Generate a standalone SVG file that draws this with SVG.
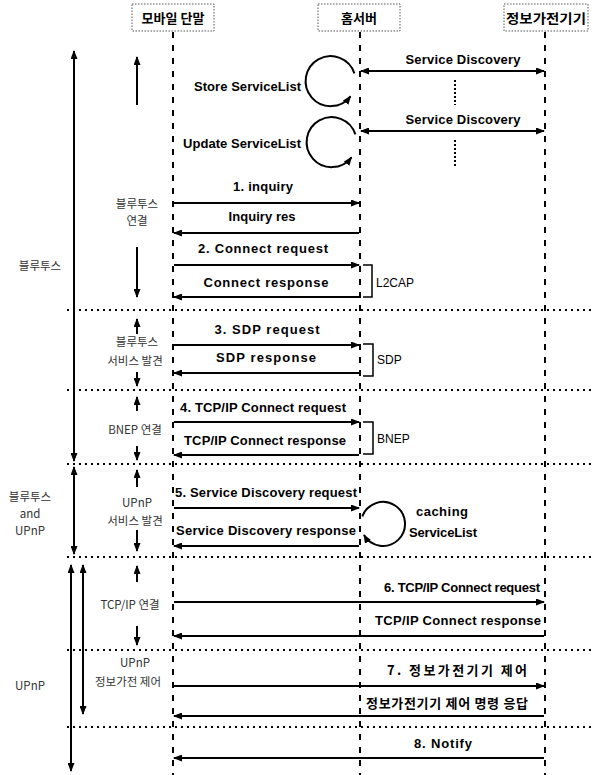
<svg xmlns="http://www.w3.org/2000/svg" width="593" height="775" viewBox="0 0 593 775">
<defs>
<marker id="ah" markerUnits="userSpaceOnUse" markerWidth="9" markerHeight="7" refX="8" refY="3.5" orient="auto-start-reverse">
<path d="M0,0 L9,3.5 L0,7 z" fill="#000"/>
</marker>
<style>
.en{font-family:"Liberation Sans",Arial,"Noto Sans CJK KR",sans-serif;font-weight:bold;font-size:13px;fill:#000;text-anchor:middle}
.reg{font-family:"Liberation Sans",Arial,sans-serif;font-size:12px;fill:#000}
.ko{font-family:"Noto Sans CJK KR",sans-serif;font-size:11.5px;fill:#333;text-anchor:middle}
.kob{font-family:"Noto Sans CJK KR",sans-serif;font-weight:bold;font-size:13px;fill:#000;text-anchor:middle}
.box{fill:#fff;stroke:#555;stroke-width:1;stroke-dasharray:1.5 1.5}
.life{stroke:#000;stroke-width:2;stroke-dasharray:6 7;fill:none}
.sep{stroke:#000;stroke-width:2;stroke-dasharray:2 4;fill:none}
.msg{stroke:#000;stroke-width:2;fill:none;marker-end:url(#ah)}
.both{stroke:#000;stroke-width:2;fill:none;marker-end:url(#ah);marker-start:url(#ah)}
.thin{stroke:#000;stroke-width:1.5;fill:none}
</style>
</defs>

<g id="lifelines">
<line class="life" x1="173" y1="32" x2="173" y2="775"/>
<line class="life" x1="360" y1="32" x2="360" y2="775"/>
<line class="life" x1="545" y1="32" x2="545" y2="775"/>
</g>

<g id="mobile">
<rect class="box" x="132" y="4" width="82" height="27"/>
<text class="kob" x="173" y="23">모바일 단말</text>
</g>
<g id="homeserver">
<rect class="box" x="318" y="4" width="82" height="27"/>
<text class="kob" x="359" y="23">홈서버</text>
</g>
<g id="device">
<rect class="box" x="504" y="4" width="84" height="27"/>
<text class="kob" x="546" y="23" textLength="80" lengthAdjust="spacingAndGlyphs">정보가전기기</text>
</g>

<g id="separators">
<line class="sep" x1="67" y1="310" x2="593" y2="310"/>
<line class="sep" x1="67" y1="390" x2="593" y2="390"/>
<line class="sep" x1="67" y1="464" x2="593" y2="464"/>
<line class="sep" x1="67" y1="557" x2="593" y2="557"/>
<line class="sep" x1="67" y1="650" x2="593" y2="650"/>
<line class="sep" x1="67" y1="727" x2="593" y2="727"/>
</g>

<g id="connectors">
<line class="both" x1="361" y1="71" x2="544" y2="71"/>
<line class="both" x1="361" y1="131" x2="544" y2="131"/>
<line class="sep" x1="455" y1="80" x2="455" y2="105" style="stroke-dasharray:2 2"/>
<line class="sep" x1="455" y1="140" x2="455" y2="166" style="stroke-dasharray:2 2"/>
<path class="msg" d="M354.4,73.4 A25,25 0 1 0 350.5,96.3"/>
<path class="msg" d="M355.4,134.4 A25,25 0 1 0 351.5,157.3"/>
<path class="msg" d="M362.3,516.5 A22,22 0 1 1 364,535"/>

<line class="msg" x1="174" y1="203" x2="359" y2="203"/>
<line class="msg" x1="359" y1="233" x2="174" y2="233"/>
<line class="msg" x1="174" y1="265" x2="359" y2="265"/>
<line class="msg" x1="359" y1="297" x2="174" y2="297"/>
<line class="msg" x1="174" y1="345" x2="359" y2="345"/>
<line class="msg" x1="359" y1="373" x2="174" y2="373"/>
<line class="msg" x1="174" y1="422" x2="359" y2="422"/>
<line class="msg" x1="359" y1="455" x2="174" y2="455"/>
<line class="msg" x1="174" y1="508" x2="359" y2="508"/>
<line class="msg" x1="359" y1="546" x2="174" y2="546"/>
<line class="msg" x1="174" y1="602" x2="544" y2="602"/>
<line class="msg" x1="544" y1="636" x2="174" y2="636"/>
<line class="msg" x1="174" y1="686" x2="544" y2="686"/>
<line class="msg" x1="544" y1="716" x2="174" y2="716"/>
<line class="msg" x1="544" y1="758" x2="174" y2="758"/>

<path class="thin" d="M363,265 H372 V297 H363"/>
<path class="thin" d="M363,344 H373 V376 H363"/>
<path class="thin" d="M363,422 H373 V454 H363"/>

<line class="both" x1="74" y1="51" x2="74" y2="461"/>
<line class="both" x1="74" y1="467" x2="74" y2="554"/>
<line class="both" x1="71" y1="565" x2="71" y2="771"/>
<line class="both" x1="83" y1="565" x2="83" y2="714"/>

<line class="msg" x1="137" y1="105" x2="137" y2="57"/>
<line class="msg" x1="137" y1="247" x2="137" y2="297"/>
<line class="msg" x1="137" y1="334" x2="137" y2="319"/>
<line class="msg" x1="137" y1="372" x2="137" y2="386"/>
<line class="msg" x1="137" y1="411" x2="137" y2="397"/>
<line class="msg" x1="137" y1="446" x2="137" y2="460"/>
<line class="msg" x1="137" y1="487" x2="137" y2="470"/>
<line class="msg" x1="137" y1="530" x2="137" y2="551"/>
<line class="msg" x1="137" y1="582" x2="137" y2="566"/>
<line class="msg" x1="137" y1="626" x2="137" y2="645"/>
</g>

<g id="labels">
<text class="en" x="463" y="64" textLength="115">Service Discovery</text>
<text class="en" x="463" y="124" textLength="115">Service Discovery</text>
<text class="en" x="301" y="91" style="text-anchor:end" textLength="107">Store ServiceList</text>
<text class="en" x="301" y="148" style="text-anchor:end" textLength="118">Update ServiceList</text>
<text class="en" x="263" y="191" textLength="60">1. inquiry</text>
<text class="en" x="262" y="221" textLength="67">Inquiry res</text>
<text class="en" x="263" y="253" textLength="130">2. Connect request</text>
<text class="en" x="266" y="287" textLength="125">Connect response</text>
<text class="en" x="267" y="334" textLength="105">3. SDP request</text>
<text class="en" x="266" y="362" textLength="100">SDP response</text>
<text class="en" x="263" y="412" textLength="166">4. TCP/IP Connect request</text>
<text class="en" x="265" y="445" textLength="162">TCP/IP Connect response</text>
<text class="en" x="266" y="497" textLength="182">5. Service Discovery request</text>
<text class="en" x="266" y="535" textLength="180">Service Discovery response</text>
<text class="en" x="416" y="516" style="text-anchor:start" textLength="52">caching</text>
<text class="en" x="409" y="537" style="text-anchor:start" textLength="68">ServiceList</text>
<text class="en" x="462" y="592" textLength="156">6. TCP/IP Connect request</text>
<text class="en" x="458" y="625" textLength="166">TCP/IP Connect response</text>
<text class="kob" x="457" y="675" textLength="140">7. 정보가전기기 제어</text>
<text class="kob" x="447" y="708" textLength="162">정보가전기기 제어 명령 응답</text>
<text class="en" x="443" y="748" textLength="58">8. Notify</text>

<text class="reg" x="376" y="287">L2CAP</text>
<text class="reg" x="377" y="364">SDP</text>
<text class="reg" x="377" y="443">BNEP</text>

<text class="ko" x="40" y="270">블루투스</text>
<text class="ko" x="137" y="208">블루투스</text>
<text class="ko" x="137" y="225">연결</text>
<text class="ko" x="137" y="346">블루투스</text>
<text class="ko" x="135" y="365">서비스 발견</text>
<text class="ko" x="135" y="434">BNEP 연결</text>
<text class="ko" x="30" y="501">블루투스</text>
<text class="ko" x="30" y="518">and</text>
<text class="ko" x="30" y="535">UPnP</text>
<text class="ko" x="137" y="507">UPnP</text>
<text class="ko" x="135" y="525">서비스 발견</text>
<text class="ko" x="130" y="609">TCP/IP 연결</text>
<text class="ko" x="135" y="667">UPnP</text>
<text class="ko" x="128" y="686">정보가전 제어</text>
<text class="ko" x="30" y="690">UPnP</text>
</g>
</svg>
